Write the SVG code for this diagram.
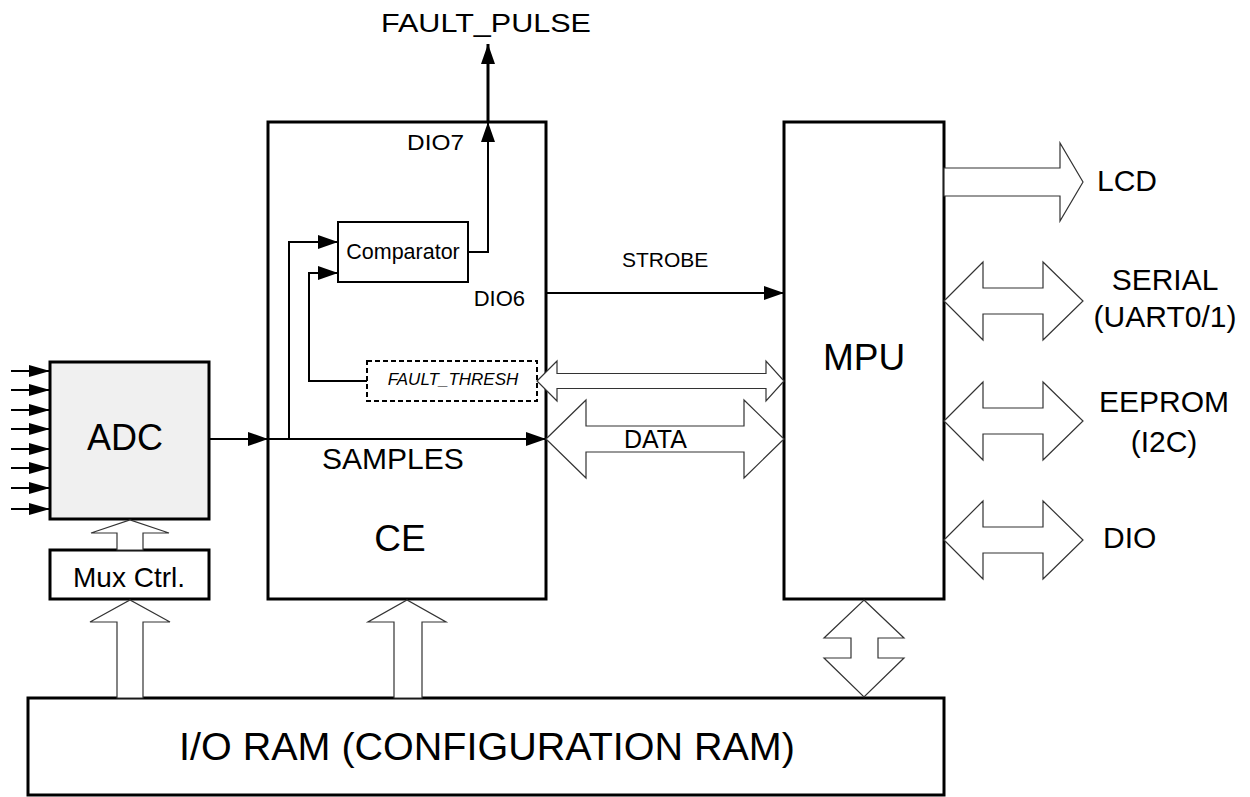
<svg xmlns="http://www.w3.org/2000/svg" width="1250" height="797" viewBox="0 0 1250 797">
<style>
.box{fill:#fff;stroke:#000;stroke-width:3}
.thin{fill:#fff;stroke:#000;stroke-width:2}
.bus{fill:#fff;stroke:#333;stroke-width:1.2;stroke-linejoin:miter}
.w{fill:none;stroke:#000;stroke-width:2}
.t{font-family:"Liberation Sans",Arial,sans-serif;fill:#000}
</style>
<defs>
<marker id="ah" viewBox="0 0 20 14" refX="20" refY="7" markerWidth="20" markerHeight="14" markerUnits="userSpaceOnUse" orient="auto">
<path d="M0,0 L20,7 L0,14 Z" fill="#000"/>
</marker>
<marker id="ahs" viewBox="0 0 21 12" refX="21" refY="6" markerWidth="21" markerHeight="12" markerUnits="userSpaceOnUse" orient="auto">
<path d="M0,0 L21,6 L0,12 Z" fill="#000"/>
</marker>
</defs>

<g id="ce">
<rect class="box" x="268" y="122" width="278" height="477"/>
<text class="t" x="400" y="551" font-size="37" text-anchor="middle">CE</text>
<text class="t" x="322" y="469" font-size="30">SAMPLES</text>
<text class="t" x="407" y="150" font-size="22" textLength="57" lengthAdjust="spacingAndGlyphs">DIO7</text>
<text class="t" x="525" y="306" font-size="22" text-anchor="end">DIO6</text>
</g>

<g id="comparator">
<rect class="thin" x="338" y="222" width="130" height="60"/>
<text class="t" x="403" y="259" font-size="21.5" text-anchor="middle">Comparator</text>
</g>

<g id="fault_thresh">
<rect x="367" y="361" width="170" height="40" fill="#fff" stroke="#000" stroke-width="2" stroke-dasharray="5,3"/>
<text class="t" x="453" y="385" font-size="17" font-style="italic" text-anchor="middle">FAULT_THRESH</text>
</g>

<g id="adc">
<rect x="50" y="362" width="159" height="157" fill="#f0f0f0" stroke="#000" stroke-width="3"/>
<text class="t" x="125" y="450" font-size="36" text-anchor="middle">ADC</text>
</g>

<g id="mux">
<rect class="box" x="50" y="550" width="159" height="49"/>
<text class="t" x="129" y="587" font-size="28" text-anchor="middle">Mux Ctrl.</text>
</g>

<g id="mpu">
<rect class="box" x="784" y="122" width="160" height="477"/>
<text class="t" x="864" y="370" font-size="37" text-anchor="middle">MPU</text>
</g>

<g id="ioram">
<rect class="box" x="28" y="698" width="916" height="97"/>
<text class="t" x="487" y="760" font-size="39.5" text-anchor="middle">I/O RAM (CONFIGURATION RAM)</text>
</g>

<g id="labels">
<text class="t" x="381" y="32" font-size="25" textLength="210" lengthAdjust="spacingAndGlyphs">FAULT_PULSE</text>
<text class="t" x="622" y="267" font-size="21">STROBE</text>
<text class="t" x="1097" y="191" font-size="30">LCD</text>
<text class="t" x="1165" y="290" font-size="30" text-anchor="middle">SERIAL</text>
<text class="t" x="1165" y="327" font-size="30" text-anchor="middle">(UART0/1)</text>
<text class="t" x="1164" y="412" font-size="30" text-anchor="middle">EEPROM</text>
<text class="t" x="1164" y="452" font-size="30" text-anchor="middle">(I2C)</text>
<text class="t" x="1103" y="548" font-size="30">DIO</text>
</g>

<g id="connectors">
<!-- ADC inputs -->
<line class="w" x1="11" y1="371" x2="50" y2="371" marker-end="url(#ahs)"/>
<line class="w" x1="11" y1="390" x2="50" y2="390" marker-end="url(#ahs)"/>
<line class="w" x1="11" y1="410" x2="50" y2="410" marker-end="url(#ahs)"/>
<line class="w" x1="11" y1="429" x2="50" y2="429" marker-end="url(#ahs)"/>
<line class="w" x1="11" y1="449" x2="50" y2="449" marker-end="url(#ahs)"/>
<line class="w" x1="11" y1="468" x2="50" y2="468" marker-end="url(#ahs)"/>
<line class="w" x1="11" y1="488" x2="50" y2="488" marker-end="url(#ahs)"/>
<line class="w" x1="11" y1="509" x2="50" y2="509" marker-end="url(#ahs)"/>
<!-- ADC to CE -->
<line class="w" x1="209" y1="439" x2="268" y2="439" marker-end="url(#ah)"/>
<!-- SAMPLES -->
<line class="w" x1="268" y1="439" x2="546" y2="439" marker-end="url(#ah)"/>
<!-- to comparator -->
<polyline class="w" points="289,439 289,242 338,242" marker-end="url(#ah)"/>
<polyline class="w" points="367,381 309,381 309,273 338,273" marker-end="url(#ah)"/>
<!-- comparator output -->
<polyline class="w" points="468,252 488,252 488,122" marker-end="url(#ah)"/>
<line x1="488" y1="122" x2="488" y2="44" stroke="#000" stroke-width="3" marker-end="url(#ah)"/>
<!-- STROBE -->
<line class="w" x1="546" y1="293" x2="784" y2="293" marker-end="url(#ah)"/>
<!-- block arrows -->
<polygon class="bus" points="537,381 557,361 557,373.5 766,373.5 766,361 784,381 766,401 766,388.5 557,388.5 557,401"/>
<polygon class="bus" points="546,439 586,400 586,426 744,426 744,400 784,439 744,478 744,452 586,452 586,478"/>
<text class="t" x="624" y="448" font-size="25">DATA</text>
<polygon class="bus" points="944,168 1060,168 1060,143 1083,182 1060,221 1060,196 944,196"/>
<polygon class="bus" points="944,301 983,262 983,288 1043,288 1043,262 1083,301 1043,340 1043,314 983,314 983,340"/>
<polygon class="bus" points="944,421 983,382 983,408 1043,408 1043,382 1083,421 1043,460 1043,434 983,434 983,460"/>
<polygon class="bus" points="944,540 983,501 983,527 1043,527 1043,501 1083,540 1043,579 1043,553 983,553 983,579"/>
<polygon class="bus" points="864,600 904,638 878,638 878,658 904,658 864,697 824,658 851,658 851,638 824,638"/>
<polygon class="bus" points="117,698 117,622 90,622 130,600 170,622 143,622 143,698"/>
<polygon class="bus" points="117,550 117,533 91,533 130,520 169,533 143,533 143,550"/>
<polygon class="bus" points="394,698 394,622 368,622 407,600 446,622 422,622 422,698"/>
</g>
</svg>
